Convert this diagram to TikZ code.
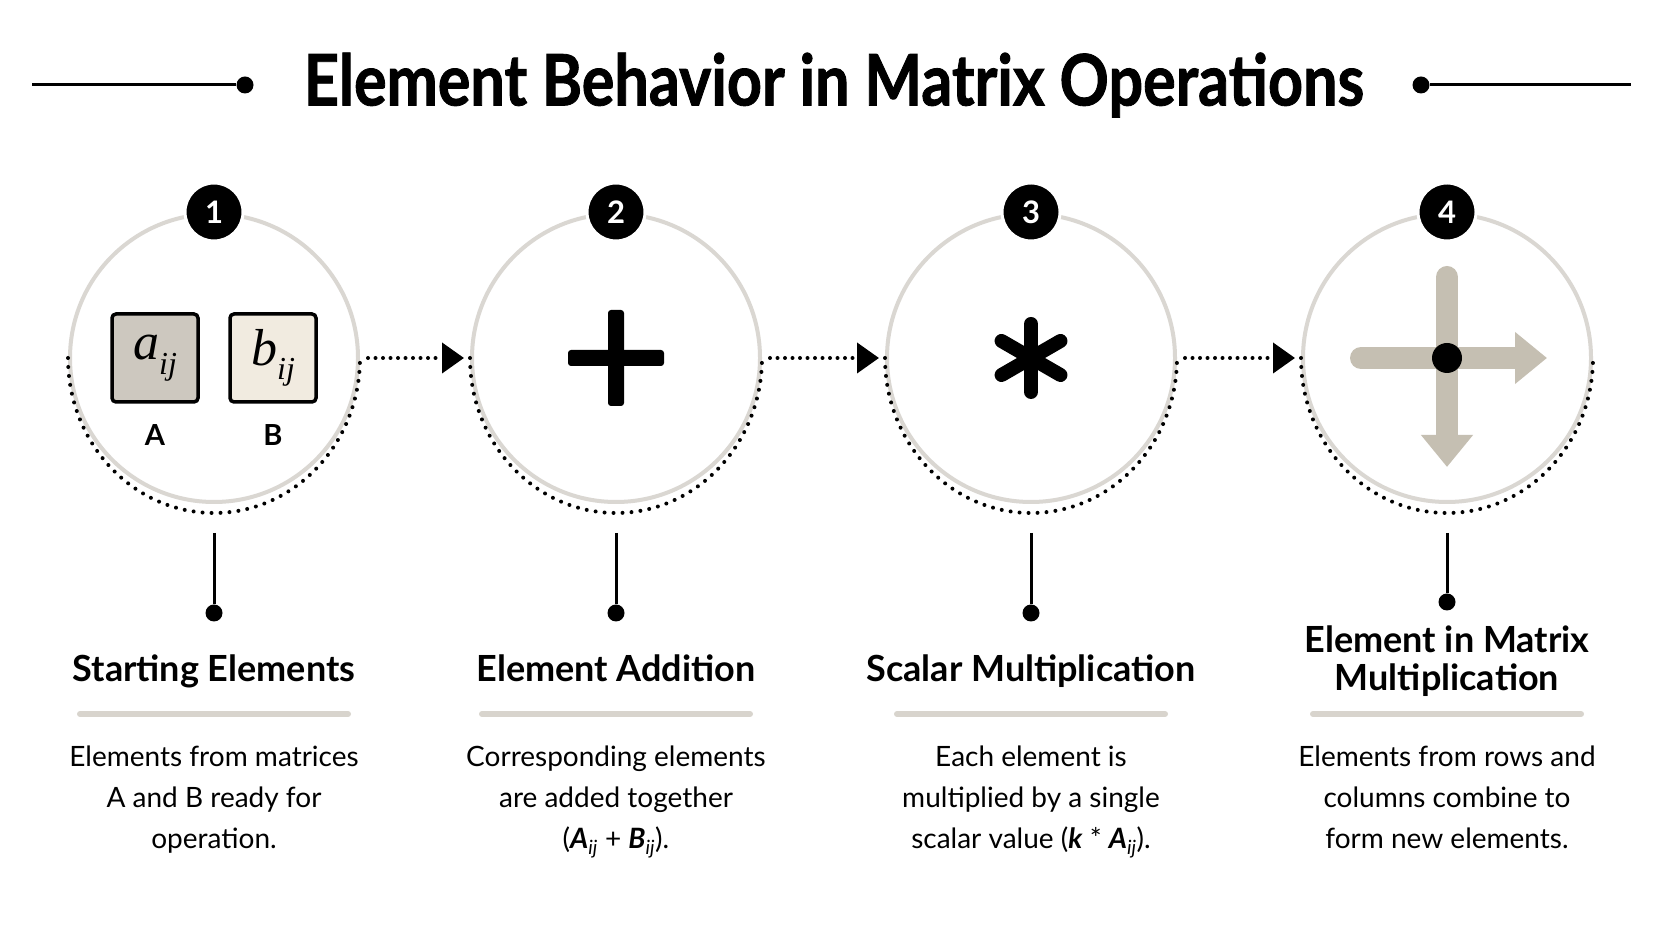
\documentclass[tikz,border=0pt]{standalone}
\usepackage{fontspec}
\setmainfont{Lato}
\newfontfamily\titlefont[FakeStretch=0.86, BoldFeatures={FakeBold=1.2}]{Lato}
\newfontfamily\cellfont{Liberation Serif}
\usepackage{tikz}
\usetikzlibrary{arrows.meta,positioning}

\definecolor{ringgray}{RGB}{218,215,210}
\definecolor{rulegray}{RGB}{216,212,205}
\definecolor{tan}{RGB}{197,191,178}
\definecolor{cellA}{RGB}{205,200,191}
\definecolor{cellB}{RGB}{241,235,224}

\newcommand{\elem}[2]{{\cellfont\itshape #1\raisebox{-0.28em}{\fontsize{32}{32}\selectfont #2}}}
\newcommand{\sym}[1]{\textbf{\textit{#1}}\textsubscript{\textit{ij}}}

\tikzset{
    ring/.style={circle, draw=ringgray, line width=4pt, minimum size=288pt, inner sep=0pt},
    dotarc/.style={line width=4pt, line cap=round, dash pattern=on 0pt off 9pt},
    badge/.style={circle, fill=black, draw=white, line width=3pt, text=white, minimum size=58pt, inner sep=0pt, font=\fontsize{31}{31}\selectfont\bfseries},
    flow/.style={line width=4pt, line cap=round, dash pattern=on 0pt off 7.5pt, -{Triangle[length=22pt,width=30pt]}},
    stem/.style={line width=3pt},
    pindot/.style={circle, fill=black, minimum size=17pt, inner sep=0pt},
    cell/.style={draw=black, line width=3.5pt, rounded corners=4pt, minimum width=86pt, minimum height=88pt, inner sep=0pt, font=\fontsize{52}{52}\selectfont},
    celllabel/.style={font=\fontsize{29}{29}\selectfont\bfseries},
    heading/.style={align=center, text height=27pt, text depth=9pt, font=\fontsize{36}{38}\selectfont\bfseries},
    blurb/.style={align=center, anchor=north, inner sep=0pt, font=\fontsize{28}{41}\selectfont},
    bar/.style={rulegray, line width=6pt, line cap=round},
    move/.style={tan, line width=22pt, line cap=round, -{Triangle[length=32pt,width=50pt]}}
}

\begin{document}
\begin{tikzpicture}[x=1pt, y=1pt]
    \useasboundingbox (0,0) rectangle (1672,941);
    \fill[white] (0,0) rectangle (1672,941);

    % Title
    \node[font=\titlefont\fontsize{71}{71}\selectfont\bfseries] (title) at (834,856) {Element Behavior in Matrix Operations};
    \coordinate (tl) at (32,856);
    \node[pindot] (tld) at (245,856) {};
    \draw[stem] (tl) -- (tld);
    \node[pindot] (trd) at (1421,856) {};
    \coordinate (tr) at (1631,856);
    \draw[stem] (trd) -- (tr);

    % Steps
    \foreach \i/\x/\y in {1/214/328, 2/616/328, 3/1031/328, 4/1447/339} {
        \node[ring] (c\i) at (\x,583) {};
        \draw[dotarc] ([xshift=-146pt]c\i.center) arc[start angle=180, end angle=360, x radius=146, y radius=155];
        \node[badge] (n\i) at (c\i.north) {\i};
        \coordinate (t\i) at (\x,408);
        \node[pindot] (d\i) at (\x,\y) {};
        \draw[stem] (t\i) -- (d\i);
        \draw[bar] (\x-134,227) -- (\x+134,227);
    }

    % Flow arrows
    \foreach \a/\b in {1/2, 2/3, 3/4}
        \draw[flow] ([xshift=8pt]c\a.east) -- ([xshift=-6pt]c\b.west);

    % Step 1: two elements
    \node[cell, fill=cellA] (ea) at (155,583) {\elem{a}{ij}};
    \node[cell, fill=cellB] (eb) at (273,583) {\elem{b}{ij}};
    \node[celllabel] (la) at (155,506) {A};
    \node[celllabel] (lb) at (273,506) {B};

    % Step 2: plus
    \fill[rounded corners=3pt] (616-48,583-8) rectangle (616+48,583+8);
    \fill[rounded corners=3pt] (616-8,583-48) rectangle (616+8,583+48);

    % Step 3: asterisk
    \foreach \r in {90, 30, -30}
        \draw[line width=14pt, line cap=round] (1031,583) ++(\r:34) -- ++(\r+180:68);

    % Step 4: rows and columns
    \coordinate (vtop) at (1447,664);
    \coordinate (vend) at (1447,474);
    \coordinate (hleft) at (1361,583);
    \coordinate (hend) at (1547,583);
    \draw[move] (vtop) -- (vend);
    \draw[move] (hleft) -- (hend);
    \node[circle, fill=black, minimum size=30pt, inner sep=0pt] (hub) at (1447,583) {};

    % Headings
    \node[heading] (h1) at (214,268) {Starting Elements};
    \node[heading] (h2) at (616,268) {Element Addition};
    \node[heading] (h3) at (1031,268) {Scalar Multiplication};
    \node[heading, text height=65pt] (h4) at (1447,278) {Element in Matrix\\Multiplication};

    % Descriptions
    \node[blurb] (p1) at (214,195) {Elements from matrices\\A and B ready for\\operation.};
    \node[blurb] (p2) at (616,195) {Corresponding elements\\are added together\\(\sym{A} + \sym{B}).};
    \node[blurb] (p3) at (1031,195) {Each element is\\multiplied by a single\\scalar value (\textbf{\textit{k}} * \sym{A}).};
    \node[blurb] (p4) at (1447,195) {Elements from rows and\\columns combine to\\form new elements.};

\end{tikzpicture}
\end{document}
